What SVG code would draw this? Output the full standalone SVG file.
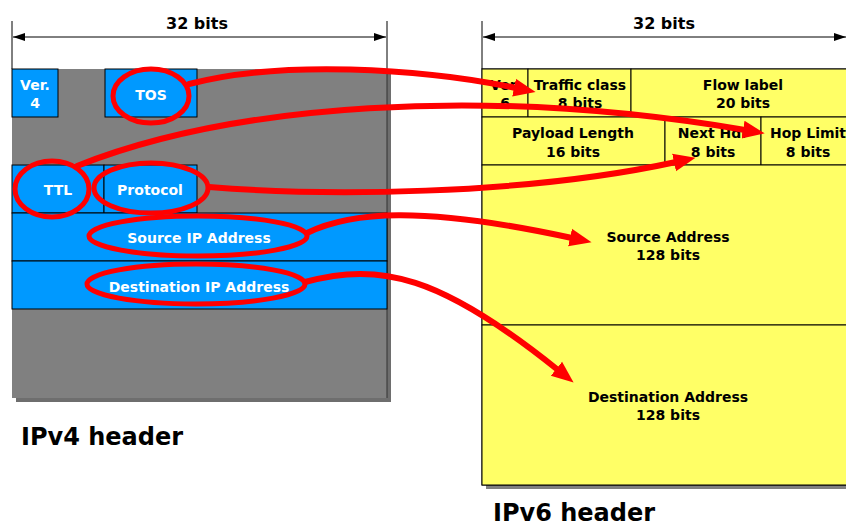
<svg xmlns="http://www.w3.org/2000/svg" width="846" height="529" viewBox="0 0 846 529">
<style>
text{font-family:"DejaVu Sans","Liberation Sans",sans-serif;font-weight:bold;text-anchor:middle}
.w{fill:#fff;font-size:14px}
.k{fill:#000;font-size:14px}
.t{font-size:16px;fill:#000}
.h{font-size:24px;fill:#000;text-anchor:start}
.blue{fill:#0099ff;stroke:#000;stroke-width:1}
.yel{fill:#ffff66;stroke:#000;stroke-width:1}
.dim{stroke:#000;stroke-width:1;fill:none}
.ring{fill:none;stroke:#ff0000;stroke-width:5}
.arr{fill:none;stroke:#ff0000;stroke-width:6;stroke-linecap:round;marker-end:url(#ah)}
</style>
<defs>
<marker id="ah" markerUnits="userSpaceOnUse" viewBox="0 -10 24 20" refX="2" refY="0" markerWidth="24" markerHeight="20" orient="auto">
<path d="M0,-9 L22,0 L0,9 Z" fill="#ff0000"/>
</marker>
<marker id="da" markerUnits="userSpaceOnUse" viewBox="0 -5 12 10" refX="12" refY="0" markerWidth="12" markerHeight="10" orient="auto-start-reverse">
<path d="M0,-4 L12,0 L0,4 Z" fill="#000"/>
</marker>
</defs>

<g id="ipv4-dimension">
<line class="dim" x1="12" y1="21" x2="12" y2="69"/>
<line class="dim" x1="387" y1="21" x2="387" y2="69"/>
<line class="dim" x1="13" y1="37" x2="386" y2="37" marker-start="url(#da)" marker-end="url(#da)"/>
<text class="t" x="197" y="29">32 bits</text>
</g>

<g id="ipv4-header">
<rect x="16" y="73" width="375" height="329" fill="#6e6e6e"/>
<rect x="12" y="69" width="375" height="329" fill="#808080"/>
<line x1="387" y1="69" x2="387" y2="398" stroke="#333" stroke-width="1"/>
</g>
<g id="v4-ver"><rect class="blue" x="12" y="69" width="46" height="48"/><text class="w" x="35" y="90">Ver.</text><text class="w" x="35" y="108">4</text></g>
<g id="v4-tos"><rect class="blue" x="105" y="69" width="92" height="48"/><text class="w" x="151" y="100">TOS</text></g>
<g id="v4-ttl"><rect class="blue" x="12" y="165" width="92" height="48"/><text class="w" x="58" y="195">TTL</text></g>
<g id="v4-protocol"><rect class="blue" x="104" y="165" width="93" height="48"/><text class="w" x="150" y="195">Protocol</text></g>
<g id="v4-src"><rect class="blue" x="12" y="213" width="375" height="48"/><text class="w" x="199" y="243">Source IP Address</text></g>
<g id="v4-dst"><rect class="blue" x="12" y="261" width="375" height="48"/><text class="w" x="199" y="292">Destination IP Address</text></g>
<text class="h" x="21" y="445">IPv4 header</text>

<g id="ipv6-dimension">
<line class="dim" x1="482" y1="21" x2="482" y2="69"/>
<line class="dim" x1="483" y1="37" x2="846" y2="37" marker-start="url(#da)" marker-end="url(#da)"/>
<text class="t" x="664" y="29">32 bits</text>
</g>

<g id="ipv6-header">
<rect x="486" y="73" width="373" height="416" fill="#808080"/>
<rect class="yel" x="482" y="69" width="373" height="416"/>
</g>
<g id="v6-ver"><rect class="yel" x="482" y="69" width="46" height="48"/><text class="k" x="505" y="90">Ver.</text><text class="k" x="505" y="108">6</text></g>
<g id="v6-tc"><rect class="yel" x="528" y="69" width="103" height="48"/><text class="k" x="580" y="90">Traffic class</text><text class="k" x="580" y="108">8 bits</text></g>
<g id="v6-flow"><rect class="yel" x="631" y="69" width="224" height="48"/><text class="k" x="743" y="90">Flow label</text><text class="k" x="743" y="108">20 bits</text></g>
<g id="v6-payload"><rect class="yel" x="482" y="117" width="183" height="48"/><text class="k" x="573" y="138">Payload Length</text><text class="k" x="573" y="157">16 bits</text></g>
<g id="v6-next"><rect class="yel" x="665" y="117" width="96" height="48"/><text class="k" x="713" y="138">Next Hdr</text><text class="k" x="713" y="157">8 bits</text></g>
<g id="v6-hop"><rect class="yel" x="761" y="117" width="94" height="48"/><text class="k" x="808" y="138">Hop Limit</text><text class="k" x="808" y="157">8 bits</text></g>
<g id="v6-src"><rect class="yel" x="482" y="165" width="373" height="160"/><text class="k" x="668" y="242">Source Address</text><text class="k" x="668" y="260">128 bits</text></g>
<g id="v6-dst"><rect class="yel" x="482" y="325" width="373" height="160"/><text class="k" x="668" y="402">Destination Address</text><text class="k" x="668" y="420">128 bits</text></g>
<text class="h" x="493" y="521">IPv6 header</text>

<g id="highlights">
<ellipse class="ring" cx="151" cy="96" rx="38" ry="27"/>
<ellipse class="ring" cx="52" cy="189" rx="37" ry="28"/>
<ellipse class="ring" cx="151" cy="188" rx="57" ry="25"/>
<ellipse class="ring" cx="198" cy="236" rx="109" ry="20"/>
<ellipse class="ring" cx="196" cy="284" rx="109" ry="20"/>
</g>

<g id="connectors">
<path class="arr" d="M189,84 C280,60 420,68 516,88"/>
<path class="arr" d="M77,166 C230,105 480,85 745,130"/>
<path class="arr" d="M209,187 C320,196 520,196 676,162"/>
<path class="arr" d="M307,233 C350,212 420,205 572,238"/>
<path class="arr" d="M305,282 C380,262 440,275 558,370"/>
</g>
</svg>
